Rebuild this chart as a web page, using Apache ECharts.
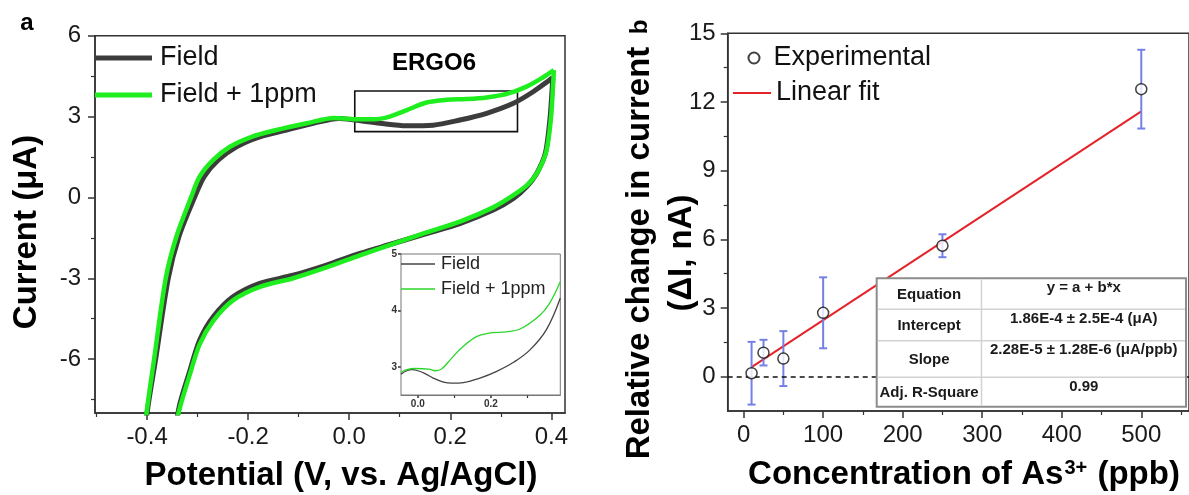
<!DOCTYPE html>
<html>
<head>
<meta charset="utf-8">
<script src="https://cdn.jsdelivr.net/npm/echarts@6/dist/echarts.min.js"></script>
<style>html,body{margin:0;padding:0;background:#fff;}#c{width:1189px;height:495px;}</style>
</head>
<body>
<div id="c"></div>
<script>
// ---------- Panel a: cyclic voltammetry (V, µA) ----------
const fieldFwd = [[-0.404,-9],[-0.4,-8],[-0.383,-6],[-0.358,-3],[-0.337,-1.46],[-0.306,0],[-0.287,0.77],[-0.259,1.39],[-0.223,1.88],[-0.177,2.25],[-0.124,2.5],[-0.071,2.75],[-0.02,2.93],[0.011,2.87],[0.061,2.75],[0.114,2.66],[0.166,2.68],[0.219,2.87],[0.272,3.12],[0.325,3.49],[0.364,3.92],[0.396,4.35],[0.403,4.45]];
const fieldRev = [[0.403,4.45],[0.4,3.6],[0.397,2.87],[0.388,1.63],[0.371,0.89],[0.351,0.39],[0.325,-0.04],[0.285,-0.47],[0.219,-0.97],[0.153,-1.34],[0.087,-1.71],[0.021,-2.08],[-0.045,-2.51],[-0.111,-2.89],[-0.177,-3.19],[-0.23,-3.69],[-0.269,-4.43],[-0.296,-5.3],[-0.315,-6.41],[-0.335,-7.65],[-0.344,-8.6]];
const ppmFwd = [[-0.405,-9],[-0.401,-8],[-0.386,-6],[-0.363,-3],[-0.342,-1.46],[-0.313,0],[-0.296,0.77],[-0.269,1.39],[-0.236,1.88],[-0.193,2.25],[-0.144,2.5],[-0.084,2.75],[-0.03,2.95],[0.011,2.9],[0.05,2.9],[0.08,3.0],[0.114,3.24],[0.153,3.52],[0.193,3.62],[0.232,3.65],[0.272,3.71],[0.312,3.84],[0.351,4.11],[0.384,4.46],[0.405,4.72]];
const ppmRev = [[0.405,4.72],[0.402,3.7],[0.399,2.9],[0.39,1.7],[0.373,0.95],[0.353,0.47],[0.325,0.08],[0.285,-0.37],[0.219,-0.9],[0.153,-1.3],[0.087,-1.72],[0.021,-2.15],[-0.045,-2.6],[-0.111,-3.0],[-0.177,-3.32],[-0.23,-3.82],[-0.269,-4.58],[-0.296,-5.45],[-0.315,-6.55],[-0.335,-7.8],[-0.345,-8.6]];
const zoomBox = [0.011, 0.333, 2.44, 3.95];   // x0, x1, y0, y1 of the boxed region
const leftXLabels = [-0.4,-0.2,0,0.2,0.4];
const leftXMinor = [-0.5,-0.3,-0.1,0.1,0.3];
const leftYLabels = [-6,-3,0,3,6];
const leftYMinor = [-7.5,-4.5,-1.5,1.5,4.5];

// inset (zoomed region)
const insetField = [[-0.046,2.87],[-0.03,2.93],[-0.015,2.95],[0.0,2.93],[0.02,2.88],[0.042,2.8],[0.07,2.73],[0.093,2.71],[0.125,2.72],[0.17,2.8],[0.216,2.92],[0.262,3.08],[0.307,3.3],[0.352,3.66],[0.39,4.22]];
const insetPpm = [[-0.046,2.9],[-0.03,2.95],[-0.008,2.97],[0.03,2.96],[0.047,2.93],[0.065,2.96],[0.092,3.15],[0.124,3.36],[0.162,3.54],[0.198,3.6],[0.242,3.62],[0.28,3.67],[0.335,3.92],[0.36,4.12],[0.39,4.51]];
const insetXLabels = [0, 0.2];
const insetXMinor = [0.1, 0.3];
const insetYLabels = [3, 4, 5];

// ---------- Panel b: calibration ----------
const conc = [10, 25, 50, 100, 250, 500];
const deltaI = [0.15, 1.05, 0.79, 2.79, 5.72, 12.56];
const errI = [1.37, 0.56, 1.2, 1.55, 0.5, 1.72];
const fitX = [10, 500];
const fitY = [0.414, 11.586];
const rightXLabels = [0,100,200,300,400,500];
const rightXMinor = [50,150,250,350,450,550];
const rightYLabels = [0,3,6,9,12,15];
const rightYMinor = [1.5,4.5,7.5,10.5,13.5];
const tableRows = [
  ['Equation', 'y = a + b*x'],
  ['Intercept', '1.86E-4 ± 2.5E-4 (μA)'],
  ['Slope', '2.28E-5 ± 1.28E-6 (μA/ppb)'],
  ['Adj. R-Square', '0.99']
];

const FONT = '"Liberation Sans", Arial, sans-serif';
const AX = '#333';
const BLACK = '#3c3c3c', GREEN = '#1eee1e', RED = '#e4232a', ERR = '#7480e6';

function majorX(grid, min, max, ticks, fmt, fs, margin) {
  return {gridIndex: grid, type: 'value', position: 'bottom', min, max,
    axisLine: {onZero: false, lineStyle: {color: AX, width: 1.5}},
    axisTick: {customValues: ticks, length: 7, lineStyle: {color: AX, width: 1.5}},
    axisLabel: {customValues: ticks, formatter: fmt, fontSize: fs, color: '#1a1a1a', fontFamily: FONT, margin},
    splitLine: {show: false}};
}
function minorX(grid, min, max, ticks, len) {
  return {gridIndex: grid, type: 'value', position: 'bottom', min, max,
    axisLine: {show: false, onZero: false},
    axisTick: {customValues: ticks, length: len, lineStyle: {color: AX, width: 1.2}},
    axisLabel: {show: false}, splitLine: {show: false}};
}
function majorY(grid, min, max, ticks, fmt, fs, margin) {
  return {gridIndex: grid, type: 'value', position: 'left', min, max,
    axisLine: {show: true, onZero: false, lineStyle: {color: AX, width: 1.5}},
    axisTick: {show: true, customValues: ticks, length: 7, lineStyle: {color: AX, width: 1.5}},
    axisLabel: {customValues: ticks, formatter: fmt, fontSize: fs, color: '#1a1a1a', fontFamily: FONT, margin},
    splitLine: {show: false}};
}
function minorY(grid, min, max, ticks, len) {
  return {gridIndex: grid, type: 'value', position: 'left', min, max,
    axisLine: {show: false, onZero: false},
    axisTick: {show: true, customValues: ticks, length: len, lineStyle: {color: AX, width: 1.2}},
    axisLabel: {show: false}, splitLine: {show: false}};
}

const xAxes = [
  majorX(0, -0.503, 0.427, leftXLabels, v => v.toFixed(1), 24, 12),
  minorX(0, -0.503, 0.427, leftXMinor, 4),
  majorX(1, -20, 560, rightXLabels, v => String(v), 24, 12),
  minorX(1, -20, 560, rightXMinor, 4),
  majorX(2, -0.046, 0.39, insetXLabels, v => v.toFixed(1), 10, 4),
  minorX(2, -0.046, 0.39, insetXMinor, 3)
];
xAxes[4].axisLabel.fontWeight = 'bold'; xAxes[4].axisLabel.color = '#333';
xAxes[4].axisTick.length = 3; xAxes[4].axisLine.lineStyle = {color: '#777', width: 1};
const yAxes = [
  majorY(0, -8, 6, leftYLabels, v => String(v), 24, 14),
  minorY(0, -8, 6, leftYMinor, 4),
  majorY(1, -1.5, 15, rightYLabels, v => String(v), 24, 12),
  minorY(1, -1.5, 15, rightYMinor, 4),
  majorY(2, 2.5, 5, insetYLabels, v => String(v), 10, 4)
];
yAxes[4].axisLabel.fontWeight = 'bold'; yAxes[4].axisLabel.color = '#333';
yAxes[4].axisTick.length = 3; yAxes[4].axisLine.lineStyle = {color: '#777', width: 1};

function cv(name, data, color, width, xi, yi, extra) {
  return Object.assign({type: 'line', name, data, xAxisIndex: xi, yAxisIndex: yi,
    showSymbol: false, symbol: 'none', smooth: 0.3, clip: true,
    lineStyle: {color, width}, itemStyle: {color}, z: 3}, extra || {});
}

const errData = conc.map((c, i) => [c, deltaI[i] - errI[i], deltaI[i] + errI[i]]);
const legText = (fs, lh) => ({fontSize: fs, color: '#111', fontFamily: FONT, lineHeight: lh});

const option = {
  animation: false,
  backgroundColor: '#fff',
  textStyle: {fontFamily: FONT},
  grid: [
    {left: 95, top: 35.7, width: 470, height: 377.3, show: true, borderColor: AX, borderWidth: 1.5},
    {left: 727.7, top: 33.3, width: 477, height: 377.7, show: true, borderColor: AX, borderWidth: 1.5},
    {left: 401, top: 254, width: 159.3, height: 141, show: true, borderColor: '#777', borderWidth: 1, backgroundColor: '#fff', z: 5}
  ],
  xAxis: xAxes,
  yAxis: yAxes,
  legend: [
    {data: [{name: 'Field', icon: 'rect'}, {name: 'Field + 1ppm', icon: 'rect'}], orient: 'vertical', left: 90, top: 38,
     itemWidth: 57, itemHeight: 5, itemGap: 7, selectedMode: false,
     textStyle: Object.assign(legText(27, 30), {padding: [0, 0, 0, 3]})},
    {data: [{name: 'inset:Field', icon: 'rect'}, {name: 'inset:Field + 1ppm', icon: 'rect'}],
     formatter: n => n.replace('inset:', ''), orient: 'vertical',
     left: 396, top: 246.5, itemWidth: 34, itemHeight: 1.3, itemGap: 0, selectedMode: false, z: 10,
     textStyle: Object.assign(legText(18, 25), {color: '#222', padding: [0, 0, 0, 1]})},
    {data: [{name: 'Experimental', icon: 'circle'}], orient: 'vertical', left: 742.5, top: 38,
     itemWidth: 11, itemHeight: 11, selectedMode: false,
     textStyle: Object.assign(legText(27, 30), {padding: [0, 0, 0, 9]})},
    {data: [{name: 'Linear fit', icon: 'rect'}], orient: 'vertical', left: 728, top: 73,
     itemWidth: 38, itemHeight: 2, selectedMode: false, textStyle: legText(27, 30)}
  ],
  series: [
    cv('Field', fieldFwd, BLACK, 5, 0, 0, {markArea: {silent: true,
      itemStyle: {color: 'rgba(0,0,0,0)', borderColor: '#111', borderWidth: 1.6},
      data: [[{coord: [zoomBox[0], zoomBox[2]]}, {coord: [zoomBox[1], zoomBox[3]]}]]}}),
    cv('Field', fieldRev, BLACK, 5, 0, 0),
    cv('Field + 1ppm', ppmFwd, GREEN, 4.5, 0, 0, {z: 4}),
    cv('Field + 1ppm', ppmRev, GREEN, 4.5, 0, 0, {z: 4}),
    cv('inset:Field', insetField, '#444', 1.3, 4, 4, {z: 8, smooth: 0.4}),
    cv('inset:Field + 1ppm', insetPpm, '#2ad62a', 1.3, 4, 4, {z: 8, smooth: 0.4}),
    {type: 'line', name: 'Linear fit', xAxisIndex: 2, yAxisIndex: 2, data: fitX.map((x, i) => [x, fitY[i]]),
     showSymbol: false, symbol: 'none', lineStyle: {color: RED, width: 2}, itemStyle: {color: RED}, z: 3,
     markLine: {silent: true, symbol: 'none', label: {show: false},
       lineStyle: {color: '#111', type: [5, 4], width: 1.6}, data: [{yAxis: 0}]}},
    {type: 'custom', name: 'err', xAxisIndex: 2, yAxisIndex: 2, data: errData, z: 4,
     encode: {x: 0, y: [1, 2]},
     renderItem: function (params, api) {
       const x = api.value(0);
       const lo = api.coord([x, api.value(1)]);
       const hi = api.coord([x, api.value(2)]);
       const w = 4;
       const st = {stroke: ERR, lineWidth: 2};
       return {type: 'group', children: [
         {type: 'line', shape: {x1: lo[0], y1: lo[1], x2: hi[0], y2: hi[1]}, style: st},
         {type: 'line', shape: {x1: lo[0] - w, y1: lo[1], x2: lo[0] + w, y2: lo[1]}, style: st},
         {type: 'line', shape: {x1: hi[0] - w, y1: hi[1], x2: hi[0] + w, y2: hi[1]}, style: st}
       ]};
     }},
    {type: 'scatter', name: 'Experimental', xAxisIndex: 2, yAxisIndex: 2, data: conc.map((c, i) => [c, deltaI[i]]),
     symbol: 'circle', symbolSize: 11, z: 6,
     itemStyle: {color: '#fff', borderColor: '#111', borderWidth: 1.5}}
  ],
  graphic: []
};

const g = option.graphic;
function txt(x, y, text, size, bold, rot, extra) {
  g.push(Object.assign({type: 'text', x, y, rotation: rot || 0, z: 120,
    style: {text, fontSize: size, fontWeight: bold ? 'bold' : 'normal', fontFamily: FONT, fill: '#000',
      align: 'center', verticalAlign: 'middle'}}, extra || {}));
}
txt(27, 23, 'a', 24, true);
txt(640, 27, 'b', 24, true, Math.PI / 2);
txt(434, 63.5, 'ERGO6', 24, true);
txt(341, 476, 'Potential (V, vs. Ag/AgCl)', 33, true);
txt(27, 232, 'Current (μA)', 33, true, Math.PI / 2);
txt(661, 253, '', 33, true, Math.PI / 2, {style: {
  text: 'Relative change in current\n(ΔI, nA)', fontSize: 33, fontWeight: 'bold', fontFamily: FONT, fill: '#000',
  align: 'center', verticalAlign: 'middle', lineHeight: 42}});
g.push({type: 'text', x: 964, y: 475, z: 120, style: {
  text: '{n|Concentration of As}{s|3+}{n| (ppb)}', align: 'center', verticalAlign: 'middle',
  rich: {n: {fontSize: 33, fontWeight: 'bold', fontFamily: FONT, fill: '#000'},
         s: {fontSize: 20, fontWeight: 'bold', fontFamily: FONT, fill: '#000', verticalAlign: 'top', padding: [0, 1, 0, 1]}}}});

// results table
const tb = {left: 876.7, top: 278.3, col: 981.5, right: 1186, rows: [278.3, 309.3, 340.7, 377.3, 406.7]};
g.push({type: 'rect', z: 110, shape: {x: tb.left, y: tb.top, width: tb.right - tb.left, height: tb.rows[4] - tb.top},
  style: {fill: '#fff', stroke: '#8c8c8c', lineWidth: 2}});
for (let i = 1; i < 4; i++) {
  g.push({type: 'line', z: 111, shape: {x1: tb.left + 1, y1: tb.rows[i], x2: tb.right - 1, y2: tb.rows[i]},
    style: {stroke: '#d2d2d2', lineWidth: 1.5}});
}
g.push({type: 'line', z: 111, shape: {x1: tb.col, y1: tb.top + 1, x2: tb.col, y2: tb.rows[4] - 1},
  style: {stroke: '#d2d2d2', lineWidth: 1.5}});
tableRows.forEach((r, i) => {
  const t = tb.rows[i], b = tb.rows[i + 1];
  txt((tb.left + tb.col) / 2, (t + b) / 2 + 1, r[0], 15, true, 0, {});
  g[g.length - 1].style.fill = '#1a1a1a';
  txt((tb.col + tb.right) / 2, t + 9.5, r[1], 15, true, 0, {});
  g[g.length - 1].style.fill = '#1a1a1a';
});

const chart = echarts.init(document.getElementById('c'), null, {renderer: 'canvas'});
chart.setOption(option);
</script>
</body>
</html>
